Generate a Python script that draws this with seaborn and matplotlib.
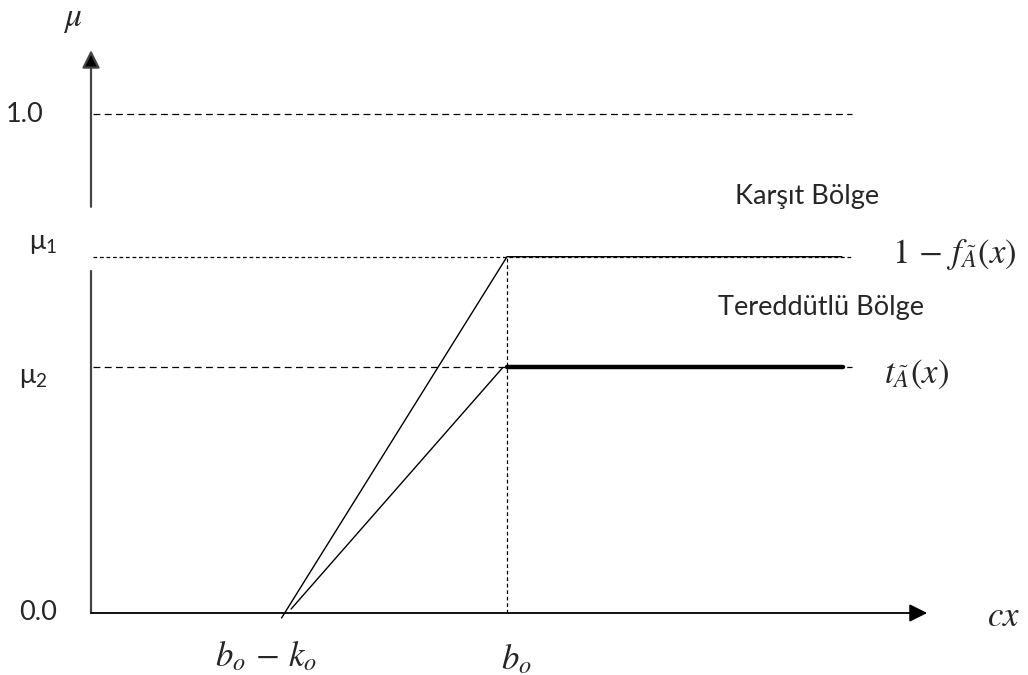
import matplotlib
matplotlib.use("Agg")
import matplotlib.pyplot as plt
import numpy as np
import pandas as pd
import seaborn as sns

# ---- diagram data (x in units of b_o, y in membership units) ----
level_labels = ["0.0", r"$\mathregular{μ_2}$", r"$\mathregular{μ_1}$", "1.0"]
level_values = [0.0, 0.492, 0.714, 1.0]
x_bk = 0.46            # b_o - k_o
x_b = 1.0              # b_o
x_end = 1.805          # end of the solid membership lines
x_dash_end = 1.83      # end of the dashed guide lines
x_axis_end = 2.01      # x-axis arrow tip
y_axis_top = 1.128     # y-axis arrow tip
y_axis_gap = [0.685, 0.814]

# upper curve (1 - f): from b_o-k_o to (b_o, mu1) then flat
upper_x = [0.458, x_b, x_end]
upper_y = [-0.01, 0.714, 0.714]
# lower curve (t): from near b_o-k_o to (b_o, mu2)
lower_x = [0.481, 0.99]
lower_y = [0.008, 0.492]
thick_x = [x_b, 1.808]
thick_y = [0.492, 0.492]

sns.set_theme(style="white")
plt.rcParams['font.family'] = ['Lato', 'DejaVu Sans']
plt.rcParams['mathtext.fontset'] = 'stix'

W, H = 1028, 675
fig = plt.figure(figsize=(W / 100, H / 100), dpi=100)
ax = fig.add_axes([0, 0, 1, 1])
# pixel mapping: x px = 91 + 416*x ; y px = 613 - 499*y
ax.set_xlim(-91 / 416, (W - 91) / 416)
ax.set_ylim((613 - H) / 499, 613 / 499)
ax.axis('off')

axis_col = '#444444'
# x axis with arrow
ax.annotate('', xy=(x_axis_end, 0), xytext=(0, 0),
            arrowprops=dict(arrowstyle='-|>,head_length=0.54,head_width=0.27',
                            mutation_scale=20, lw=1.3, color='black',
                            shrinkA=0, shrinkB=0))
# y axis lower segment
sns.lineplot(x=[0, 0], y=[0, y_axis_gap[0]], ax=ax, color=axis_col, lw=1.6,
             sort=False, estimator=None)
# y axis upper segment with arrow
ax.annotate('', xy=(0, y_axis_top), xytext=(0, y_axis_gap[1]),
            arrowprops=dict(arrowstyle='-|>,head_length=0.54,head_width=0.27',
                            mutation_scale=20, lw=1.6, fc='black', ec=axis_col,
                            shrinkA=0, shrinkB=0))

# dashed guide lines
dash_styles = {1.0: (0, (5.5, 3.5)), 0.714: (0, (3, 2.2)), 0.492: (0, (5.5, 3.5))}
for val in level_values[1:]:
    sns.lineplot(x=[0.005, x_dash_end], y=[val, val], ax=ax, color='black',
                 lw=0.9, linestyle=dash_styles[val], sort=False, estimator=None)
# vertical dashed at b_o
sns.lineplot(x=[x_b, x_b], y=[0, level_values[2]], ax=ax, color='black', lw=0.9,
             linestyle=(0, (3, 2.2)), sort=False, estimator=None)

# membership lines
sns.lineplot(x=upper_x, y=upper_y, ax=ax, color='black', lw=1.0, sort=False,
             estimator=None)
sns.lineplot(x=lower_x, y=lower_y, ax=ax, color='black', lw=1.0, sort=False,
             estimator=None)
sns.lineplot(x=thick_x, y=thick_y, ax=ax, color='black', lw=3.2, sort=False,
             estimator=None)


def ptext(px, py, s, **kw):
    fig.text(px / W, 1 - py / H, s, **kw)


fs = 19.5
mfs = 25
ptext(73, 20, r'$\mu$', fontsize=24, ha='center', va='center')
ptext(25, 114, level_labels[3], fontsize=fs, ha='center', va='center')
ptext(43, 243, level_labels[2], fontsize=fs, ha='center', va='center')
ptext(33, 377, level_labels[1], fontsize=fs, ha='center', va='center')
ptext(38, 612, level_labels[0], fontsize=fs, ha='center', va='center')
ptext(807, 197, 'Karşıt Bölge', fontsize=fs, ha='center', va='center')
ptext(821, 308, 'Tereddütlü Bölge', fontsize=fs, ha='center', va='center')
ptext(892, 254, r'$1\,-\,f_{\tilde{A}}(x)$', fontsize=mfs, ha='left', va='center')
ptext(884, 374, r'$t_{\tilde{A}}(x)$', fontsize=mfs, ha='left', va='center')
ptext(1003, 616, r'$cx$', fontsize=mfs, ha='center', va='center')
ptext(266, 656, r'$b_o\,-\,k_o$', fontsize=mfs, ha='center', va='center')
ptext(516, 659, r'$b_o$', fontsize=mfs, ha='center', va='center')

fig.savefig('out.png', dpi=100)
